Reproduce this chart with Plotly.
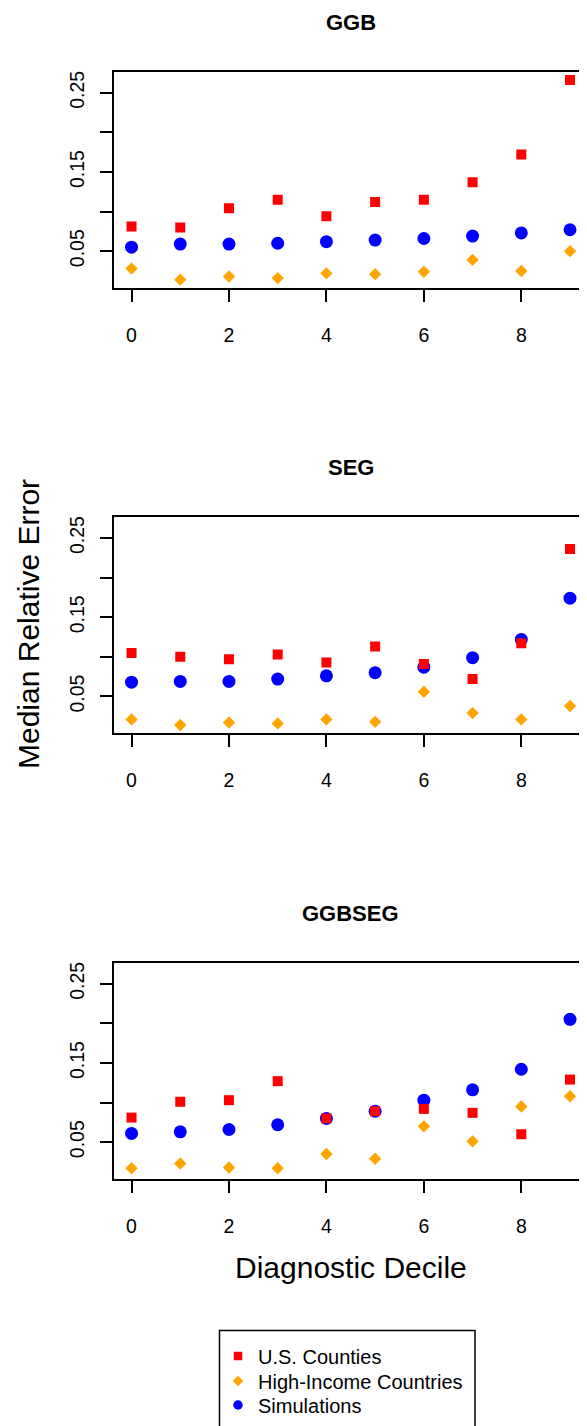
import plotly.graph_objects as go

# ---- data ----
deciles = [0, 1, 2, 3, 4, 5, 6, 7, 8, 9]
panel_titles = ["GGB", "SEG", "GGBSEG"]
series_names = ["U.S. Counties", "High-Income Countries", "Simulations"]

ggb_us = [0.081, 0.080, 0.104, 0.115, 0.094, 0.112, 0.115, 0.137, 0.172, 0.266]
ggb_hic = [0.028, 0.014, 0.018, 0.016, 0.022, 0.021, 0.024, 0.039, 0.025, 0.050]
ggb_sim = [0.055, 0.059, 0.059, 0.060, 0.062, 0.064, 0.066, 0.069, 0.073, 0.077]

seg_us = [0.105, 0.100, 0.097, 0.103, 0.093, 0.113, 0.091, 0.072, 0.117, 0.236]
seg_hic = [0.021, 0.014, 0.017, 0.016, 0.021, 0.018, 0.056, 0.029, 0.021, 0.038]
seg_sim = [0.068, 0.069, 0.069, 0.072, 0.076, 0.080, 0.087, 0.099, 0.122, 0.174]

ggbseg_us = [0.081, 0.101, 0.103, 0.127, 0.080, 0.089, 0.092, 0.087, 0.060, 0.129]
ggbseg_hic = [0.017, 0.023, 0.018, 0.017, 0.035, 0.029, 0.070, 0.051, 0.095, 0.108]
ggbseg_sim = [0.061, 0.063, 0.066, 0.072, 0.080, 0.089, 0.103, 0.116, 0.142, 0.205]

x_tickvals = [0, 2, 4, 6, 8]
x_ticktext = ["0", "2", "4", "6", "8"]
y_tickvals = [0.05, 0.10, 0.15, 0.20, 0.25]
y_ticktext = ["0.05", "", "0.15", "", "0.25"]

# ---- layout constants (screen pixels) ----
W, H = 587, 1426
OFF = 8  # default page body margin shifts the figure by this much
FONT = "Liberation Sans, Arial, sans-serif"
panel_tops = [71.7, 517.0, 962.7]
panel_h = 216.3
x_left = 114.0
unit_px = 48.72  # pixels per decile


def py(p):
    return 1 - (p - OFF) / H


def px(p):
    return (p - OFF) / W


x_right_screen = W + OFF
x_range = [-0.36, -0.36 + (x_right_screen - x_left) / unit_px]

panels = [
    (ggb_us, ggb_hic, ggb_sim),
    (seg_us, seg_hic, seg_sim),
    (ggbseg_us, ggbseg_hic, ggbseg_sim),
]

styles = {
    "U.S. Counties": dict(color="#FF0000", symbol="square", size=10, lsize=8.5,
                          legend="legend", ly=1356),
    "High-Income Countries": dict(color="#FFA500", symbol="diamond", size=9.5, lsize=8,
                                  legend="legend2", ly=1381),
    "Simulations": dict(color="#0000FF", symbol="circle", size=13, lsize=9.5,
                        legend="legend3", ly=1405),
}

fig = go.Figure()
for i, (us, hic, sim) in enumerate(panels):
    suffix = "" if i == 0 else str(i + 1)
    vals = {"U.S. Counties": us, "High-Income Countries": hic, "Simulations": sim}
    for name in ["Simulations", "High-Income Countries", "U.S. Counties"]:
        st = styles[name]
        fig.add_trace(go.Scatter(
            x=deciles, y=vals[name], mode="markers", name=name,
            xaxis="x" + suffix, yaxis="y" + suffix,
            marker=dict(color=st["color"], symbol=st["symbol"], size=st["size"],
                        line=dict(width=0)),
            showlegend=False, legendgroup=name,
        ))

# legend keys (smaller symbols, as in the reference legend)
for name in series_names:
    st = styles[name]
    fig.add_trace(go.Scatter(
        x=[None], y=[None], mode="markers", name=name,
        xaxis="x3", yaxis="y3", legendgroup=name, legend=st["legend"],
        marker=dict(color=st["color"], symbol=st["symbol"], size=st["lsize"],
                    line=dict(width=0)),
        showlegend=True,
    ))

layout = dict(
    width=W, height=H, template="none",
    paper_bgcolor="white", plot_bgcolor="white",
    margin=dict(l=0, r=0, t=0, b=0, pad=0),
    font=dict(family=FONT, color="black"),
    showlegend=True,
)

for name in series_names:
    st = styles[name]
    layout[st["legend"]] = dict(
        x=px(218), y=py(st["ly"] - 19.5), xanchor="left", yanchor="top",
        bgcolor="rgba(255,255,255,0)", borderwidth=0,
        font=dict(size=20, family=FONT, color="black"),
        tracegroupgap=0, itemwidth=30,
    )

annotations = []
shapes = []
for i in range(3):
    suffix = "" if i == 0 else str(i + 1)
    top = panel_tops[i]
    bot = top + panel_h
    layout["xaxis" + suffix] = dict(
        domain=[px(x_left), 1.0], range=x_range, anchor="y" + suffix,
        tickvals=x_tickvals, ticktext=x_ticktext, ticks="outside", ticklen=12,
        tickwidth=1.5, tickcolor="black", showline=True, linecolor="black",
        linewidth=1.5, mirror=True, showgrid=False, zeroline=False,
        tickfont=dict(size=19.5, family=FONT, color="black"),
        ticklabelstandoff=17, automargin=False,
    )
    layout["yaxis" + suffix] = dict(
        domain=[py(bot), py(top)], range=[0.0035, 0.2765], anchor="x" + suffix,
        tickvals=y_tickvals, ticktext=y_ticktext, ticks="outside", ticklen=12,
        tickwidth=1.5, tickcolor="black", showline=True, linecolor="black",
        linewidth=1.5, mirror=False, showgrid=False, zeroline=False,
        tickangle=-90, tickfont=dict(size=19.5, family=FONT, color="black"),
        ticklabelstandoff=8, automargin=False,
    )
    annotations.append(dict(
        text="<b>" + panel_titles[i] + "</b>", xref="paper", yref="paper",
        x=px(350.5), y=py(top - 49), xanchor="center", yanchor="middle",
        showarrow=False, font=dict(size=22, family=FONT, color="black"),
    ))

annotations.append(dict(
    text="Median Relative Error", xref="paper", yref="paper",
    x=px(28), y=py(624), xanchor="center", yanchor="middle", textangle=-90,
    showarrow=False, font=dict(size=30, family=FONT, color="black"),
))
annotations.append(dict(
    text="Diagnostic Decile", xref="paper", yref="paper",
    x=px(350.5), y=py(1267), xanchor="center", yanchor="middle",
    showarrow=False, font=dict(size=30, family=FONT, color="black"),
))

# legend frame (extends past the bottom edge as in the reference)
shapes.append(dict(
    type="rect", xref="paper", yref="paper",
    x0=px(219.5), x1=px(475), y0=py(1470), y1=py(1330.5),
    line=dict(color="black", width=1.5), fillcolor="rgba(0,0,0,0)",
))

layout["annotations"] = annotations
layout["shapes"] = shapes
fig.update_layout(**layout)
fig.write_html("out.html")
